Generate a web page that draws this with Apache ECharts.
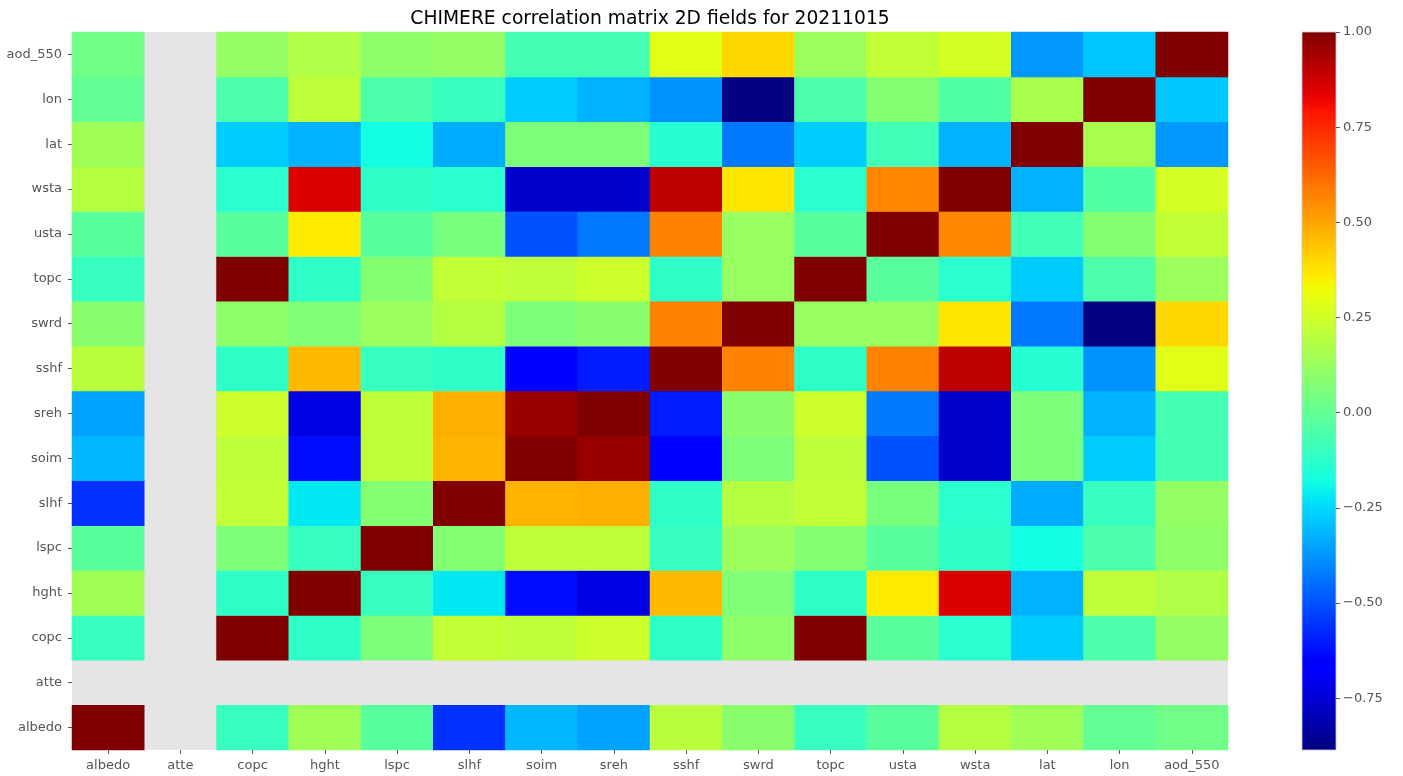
<!DOCTYPE html>
<html>
<head>
<meta charset="utf-8">
<title>CHIMERE correlation matrix 2D fields for 20211015</title>
<script src="https://cdn.jsdelivr.net/npm/echarts@6/dist/echarts.min.js"></script>
<style>
  html, body { margin: 0; padding: 0; background: #ffffff; }
  #chart { width: 1403px; height: 776px; }
</style>
</head>
<body>
<div id="chart"></div>
<script>
// Field names, used for both axes (first entry sits at the bottom of the y axis)
const fields = ['albedo', 'atte', 'copc', 'hght', 'lspc', 'slhf', 'soim', 'sreh',
                'sshf', 'swrd', 'topc', 'usta', 'wsta', 'lat', 'lon', 'aod_550'];

// Correlation of each field with every field, in the order of `fields`
// (atte is constant, so all its correlations are undefined)
const corrAlbedo = [1.00, null, -0.10, 0.14, -0.02, -0.56, -0.31, -0.35, 0.20, 0.09, -0.10, -0.02, 0.19, 0.14, 0.00, 0.03];
const corrAtte   = [null, null, null, null, null, null, null, null, null, null, null, null, null, null, null, null];
const corrCopc   = [-0.10, null, 1.00, -0.12, 0.06, 0.22, 0.21, 0.24, -0.12, 0.10, 1.00, -0.02, -0.13, -0.27, -0.05, 0.11];
const corrHght   = [0.14, null, -0.12, 1.00, -0.10, -0.22, -0.63, -0.72, 0.46, 0.07, -0.12, 0.36, 0.85, -0.32, 0.21, 0.18];
const corrLspc   = [-0.02, null, 0.06, -0.10, 1.00, 0.08, 0.21, 0.21, -0.10, 0.13, 0.08, -0.02, -0.12, -0.18, -0.05, 0.10];
const corrSlhf   = [-0.56, null, 0.22, -0.22, 0.08, 1.00, 0.47, 0.48, -0.12, 0.19, 0.22, 0.05, -0.13, -0.33, -0.10, 0.11];
const corrSoim   = [-0.31, null, 0.21, -0.63, 0.21, 0.47, 1.00, 0.96, -0.67, 0.06, 0.21, -0.50, -0.76, 0.06, -0.27, -0.07];
const corrSreh   = [-0.35, null, 0.24, -0.72, 0.21, 0.48, 0.96, 1.00, -0.60, 0.09, 0.24, -0.43, -0.76, 0.06, -0.32, -0.07];
const corrSshf   = [0.20, null, -0.12, 0.46, -0.10, -0.12, -0.67, -0.60, 1.00, 0.57, -0.12, 0.57, 0.90, -0.14, -0.38, 0.29];
const corrSwrd   = [0.09, null, 0.10, 0.07, 0.13, 0.19, 0.06, 0.09, 0.57, 1.00, 0.12, 0.12, 0.37, -0.43, -0.886, 0.40];
const corrTopc   = [-0.10, null, 1.00, -0.12, 0.08, 0.22, 0.21, 0.24, -0.12, 0.12, 1.00, -0.02, -0.13, -0.27, -0.05, 0.13];
const corrUsta   = [-0.02, null, -0.02, 0.36, -0.02, 0.05, -0.50, -0.43, 0.57, 0.12, -0.02, 1.00, 0.56, -0.08, 0.08, 0.22];
const corrWsta   = [0.19, null, -0.13, 0.85, -0.12, -0.13, -0.76, -0.76, 0.90, 0.37, -0.13, 0.56, 1.00, -0.32, -0.04, 0.26];
const corrLat    = [0.14, null, -0.27, -0.32, -0.18, -0.33, 0.06, 0.06, -0.14, -0.43, -0.27, -0.08, -0.32, 1.00, 0.16, -0.37];
const corrLon    = [0.00, null, -0.05, 0.21, -0.05, -0.10, -0.27, -0.32, -0.38, -0.886, -0.05, 0.08, -0.04, 0.16, 1.00, -0.28];
const corrAod    = [0.03, null, 0.11, 0.18, 0.10, 0.11, -0.07, -0.07, 0.29, 0.40, 0.13, 0.22, 0.26, -0.37, -0.28, 1.00];

// Colour bar range and its tick values
const colorMin = -0.886;
const colorMax = 1.0;
const colorTicks = [-0.75, -0.5, -0.25, 0, 0.25, 0.5, 0.75, 1.0];

const rows = [corrAlbedo, corrAtte, corrCopc, corrHght, corrLspc, corrSlhf, corrSoim, corrSreh,
              corrSshf, corrSwrd, corrTopc, corrUsta, corrWsta, corrLat, corrLon, corrAod];

// Heatmap cells: [column index, row index, value]; undefined cells are left empty
const cells = [];
rows.forEach(function (row, yi) {
  row.forEach(function (v, xi) {
    if (v !== null) cells.push([xi, yi, v]);
  });
});

// Matplotlib "jet" colour map, sampled into a list of stops
function jetChannel(pts, t) {
  for (let i = 1; i < pts.length; i++) {
    if (t <= pts[i][0]) {
      const a = pts[i - 1], b = pts[i];
      return a[1] + (b[1] - a[1]) * (t - a[0]) / (b[0] - a[0]);
    }
  }
  return pts[pts.length - 1][1];
}
const jetR = [[0, 0], [0.35, 0], [0.66, 1], [0.89, 1], [1, 0.5]];
const jetG = [[0, 0], [0.125, 0], [0.375, 1], [0.64, 1], [0.91, 0], [1, 0]];
const jetB = [[0, 0.5], [0.11, 1], [0.34, 1], [0.65, 0], [1, 0]];
const jetSteps = 128;
const jetColors = [];
for (let i = 0; i <= jetSteps; i++) {
  const t = i / jetSteps;
  const to255 = function (x) { return Math.round(Math.max(0, Math.min(1, x)) * 255); };
  jetColors.push('rgb(' + to255(jetChannel(jetR, t)) + ',' + to255(jetChannel(jetG, t)) + ',' + to255(jetChannel(jetB, t)) + ')');
}

const fontFamily = '"DejaVu Sans", sans-serif';
const labelColor = '#555555';
const labelSize = 13;

// Plot area and colour bar placement
const plot = { left: 72, top: 32, width: 1156, height: 718 };
const bar = { left: 1302, top: 32, width: 34, height: 718 };

const chart = echarts.init(document.getElementById('chart'), null, { renderer: 'canvas' });

chart.setOption({
  backgroundColor: '#ffffff',
  animation: false,
  title: {
    text: 'CHIMERE correlation matrix 2D fields for 20211015',
    left: plot.left + plot.width / 2 - 5,
    textAlign: 'center',
    top: 5,
    textStyle: { fontFamily: fontFamily, fontSize: 18.7, fontWeight: 'normal', color: '#000000' }
  },
  grid: [
    { left: plot.left, top: plot.top, width: plot.width, height: plot.height,
      show: true, backgroundColor: '#E5E5E5', borderWidth: 0 },
    { left: bar.left, top: bar.top, width: bar.width, height: bar.height, show: false }
  ],
  xAxis: [
    {
      type: 'category', gridIndex: 0, data: fields,
      axisLine: { show: false },
      axisTick: { show: true, alignWithLabel: true, length: 4, lineStyle: { color: labelColor } },
      axisLabel: { color: labelColor, fontFamily: fontFamily, fontSize: labelSize, margin: 9 },
      splitLine: { show: false }
    },
    { type: 'value', gridIndex: 1, show: false, min: 0, max: 1 }
  ],
  yAxis: [
    {
      type: 'category', gridIndex: 0, data: fields,
      axisLine: { show: false },
      axisTick: { show: true, alignWithLabel: true, length: 4, lineStyle: { color: labelColor } },
      axisLabel: { color: labelColor, fontFamily: fontFamily, fontSize: labelSize, margin: 10 },
      splitLine: { show: false }
    },
    {
      type: 'value', gridIndex: 1, position: 'right', min: colorMin, max: colorMax,
      z: 10,
      axisLine: { show: false, onZero: false },
      axisTick: { show: true, inside: false, length: 4, lineStyle: { color: labelColor }, customValues: colorTicks },
      axisLabel: {
        color: labelColor, fontFamily: fontFamily, fontSize: labelSize, margin: 7,
        customValues: colorTicks,
        formatter: function (v) { return v.toFixed(2).replace('-', '\u2212'); }
      },
      splitLine: { show: false }
    }
  ],
  visualMap: {
    type: 'continuous',
    seriesIndex: 0,
    min: colorMin,
    max: colorMax,
    show: false,
    inRange: { color: jetColors }
  },
  // Colour bar: the same jet ramp, from colorMin at the bottom to colorMax at the top
  graphic: [
    {
      type: 'rect',
      silent: true,
      z: -1,
      shape: { x: bar.left, y: bar.top, width: bar.width, height: bar.height },
      style: {
        fill: new echarts.graphic.LinearGradient(0, 1, 0, 0,
          jetColors.map(function (c, i) { return { offset: i / jetSteps, color: c }; })),
        stroke: 'rgba(200,200,225,0.8)',
        lineWidth: 1
      }
    }
  ],
  series: [
    {
      type: 'heatmap',
      xAxisIndex: 0,
      yAxisIndex: 0,
      data: cells,
      itemStyle: { borderWidth: 0 },
      emphasis: { disabled: true }
    },
    {
      type: 'line',
      xAxisIndex: 1,
      yAxisIndex: 1,
      data: [],
      silent: true
    }
  ]
});
</script>
</body>
</html>
